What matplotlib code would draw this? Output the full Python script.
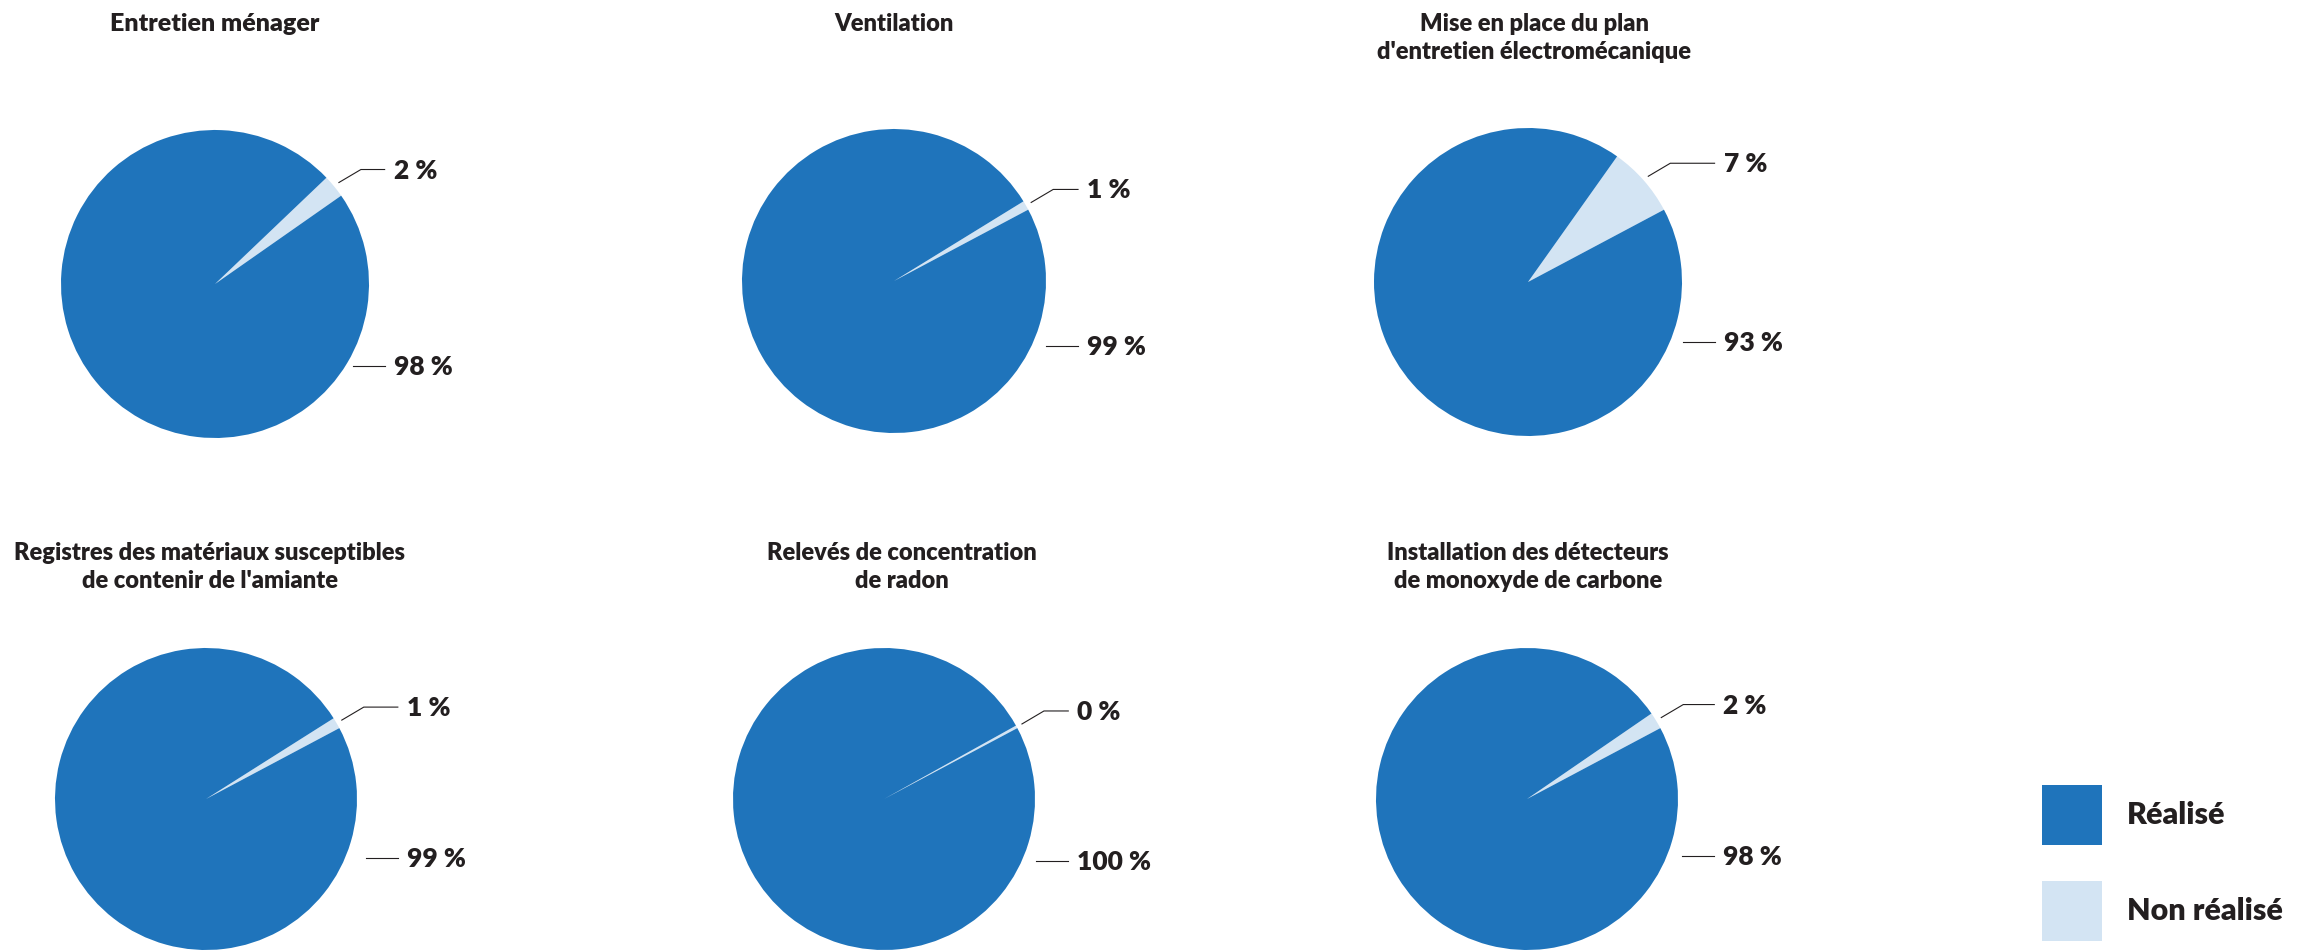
import numpy as np
import matplotlib.pyplot as plt
from matplotlib.patches import Rectangle

# ---------------------------
# Data
# ---------------------------
titles = ["Entretien ménager",
          "Ventilation",
          "Mise en place du plan\nd'entretien électromécanique",
          "Registres des matériaux susceptibles\nde contenir de l'amiante",
          "Relevés de concentration\nde radon",
          "Installation des détecteurs\nde monoxyde de carbone"]
non_realise = [2.4, 1.0, 7.4, 1.2, 0.3, 1.8]
realise = [100 - v for v in non_realise]
legend_labels = ["Réalisé", "Non réalisé"]

blue = "#1F74BB"
light = "#D3E4F3"
ink = "#231F20"
font = ["Lato", "DejaVu Sans"]

# ---------------------------
# Layout (pixels, measured from top-left)
# ---------------------------
W, H = 2320, 950
cx = [215, 894, 1528, 206, 884, 1527]
cy = [284, 281, 282, 799, 799, 799]
radius = [154, 152, 154, 151, 151, 151]
start = [35, 28, 28, 28, 28, 28]
title_x = [215, 894, 1534, 210, 902, 1528]
title_y = [31, 31, 31, 560, 560, 560]
title_size = [18, 17, 17, 17, 17, 17]
label_dx = [1.16, 1.27, 1.27, 1.33, 1.28, 1.30]
big_dy = [0.53, 0.43, 0.39, 0.39, 0.41, 0.38]

fig = plt.figure(figsize=(W / 100, H / 100), dpi=100)
ax = fig.add_axes([0, 0, 1, 1])

for i in range(len(titles)):
    X, Y, r = cx[i], H - cy[i], radius[i]
    ax.pie([non_realise[i], realise[i]], colors=[light, blue],
           startangle=start[i], counterclock=True,
           center=(X, Y), radius=r, wedgeprops=dict(linewidth=0))

    # title
    for k, line in enumerate(titles[i].split("\n")):
        ax.text(title_x[i], H - (title_y[i] + 28 * k), line, ha="center",
                va="baseline", fontsize=title_size[i], fontweight="heavy",
                color=ink, family=font)

    tx = X + label_dx[i] * r

    # small slice label
    m = np.radians(start[i] + non_realise[i] * 3.6 / 2)
    x0 = X + 1.04 * r * np.cos(m)
    y0 = Y + 1.04 * r * np.sin(m)
    x1, y1 = x0 + 22, y0 + 13
    ax.plot([x0, x1, tx - 9], [y0, y1, y1], color=ink, lw=0.8)
    ax.text(tx, y1 - 9, f"{round(non_realise[i])} %", va="baseline",
            fontsize=19, fontweight="heavy", color=ink, family=font)

    # big slice label
    yb = Y - big_dy[i] * r
    ax.plot([tx - 41, tx - 9], [yb, yb], color=ink, lw=0.8)
    ax.text(tx, yb - 9, f"{round(realise[i])} %", va="baseline",
            fontsize=19, fontweight="heavy", color=ink, family=font)

# ---------------------------
# Legend
# ---------------------------
leg_colors = [blue, light]
leg_top = [785, 881]
for c, t, lab in zip(leg_colors, leg_top, legend_labels):
    ax.add_patch(Rectangle((2042, H - t - 60), 60, 60, color=c, lw=0))
    ax.text(2127, H - t - 30, lab, va="center", fontsize=22, fontweight="heavy",
            color=ink, family=font)

ax.set_xlim(0, W)
ax.set_ylim(0, H)
ax.set_aspect("equal")
ax.axis("off")

fig.savefig("out.png", dpi=100)
